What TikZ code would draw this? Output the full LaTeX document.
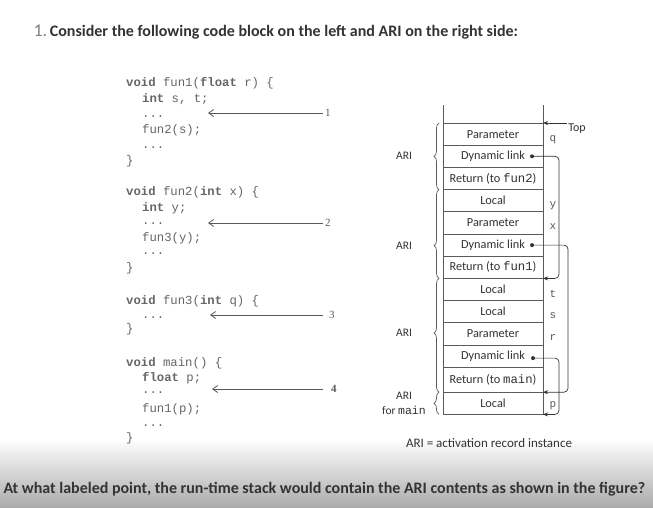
\documentclass[tikz,border=0pt]{standalone}
\usepackage{fontspec}
\setmainfont{Carlito}
\newfontfamily\codefont{Liberation Mono}
\newfontfamily\numfont{Liberation Serif}
\usetikzlibrary{positioning,arrows.meta,decorations.pathreplacing}

\definecolor{ink}{HTML}{5A5A5A}
\definecolor{codeink}{HTML}{666666}
\definecolor{txt}{HTML}{333333}

\newcommand{\kwd}[1]{\textbf{#1}}
\newcommand{\tname}[1]{{\codefont #1}}

\tikzset{
  code/.style={anchor=base west, inner sep=0pt, text=codeink,
    font=\codefont\fontsize{12.3}{14}\selectfont},
  pointnum/.style={anchor=west, inner sep=2pt, text=ink,
    font=\numfont\fontsize{11}{12}\selectfont},
  pointer/.style={draw=ink, line width=0.8pt, -{Straight Barb[length=5pt,width=7pt]}},
  cell/.style={draw=ink, line width=0.7pt, minimum width=100pt, minimum height=22.2pt,
    inner sep=0pt, outer sep=0pt, text=txt, font=\fontsize{12.3}{14}\selectfont},
  varlab/.style={anchor=base, inner sep=0pt, text=ink,
    font=\codefont\fontsize{11}{12}\selectfont},
  dynlink/.style={draw=txt, line width=0.7pt, rounded corners=4pt, -{Stealth[length=5pt,width=4pt]}},
  aribrace/.style={draw=ink, line width=0.7pt, decorate,
    decoration={brace, amplitude=5pt, aspect=#1}},
  arilabel/.style={xshift=-35pt, inner sep=0pt, text=txt, align=center,
    font=\fontsize{11.5}{15}\selectfont}
}

\begin{document}
\begin{tikzpicture}[x=1pt,y=1pt]

\useasboundingbox (0,0) rectangle (653,507);
\fill[white] (0,0) rectangle (653,507);
\shade[top color=white, bottom color=black!33] (0,0) rectangle (653,68);

% title and question
\node[anchor=west, text=txt, font=\fontsize{16}{18}\selectfont] (title) at (30,475)
  {{\color{gray}\fontsize{18}{18}\selectfont 1.}\,\textbf{Consider the following code block on the left and ARI on the right side:}};
\node[anchor=west, text=txt, font=\fontsize{16}{18}\selectfont\bfseries] (question) at (0,18)
  {At what labeled point, the run-time stack would contain the ARI contents as shown in the figure?};

% fun1
\node[code] (f1a) at (126,420) {\kwd{void} fun1(\kwd{float} r) \{};
\node[code] (f1b) at (142,404) {\kwd{int} s, t;};
\node[code] (f1c) at (142,389) {...};
\node[code] (f1d) at (142,373) {fun2(s);};
\node[code] (f1e) at (142,358) {...};
\node[code] (f1f) at (126,342) {\}};

% fun2
\node[code] (f2a) at (126,312) {\kwd{void} fun2(\kwd{int} x) \{};
\node[code] (f2b) at (142,296) {\kwd{int} y;};
\node[code] (f2c) at (142,283) {...};
\node[code] (f2d) at (142,266) {fun3(y);};
\node[code] (f2e) at (142,253) {...};
\node[code] (f2f) at (126,236) {\}};

% fun3
\node[code] (f3a) at (126,203) {\kwd{void} fun3(\kwd{int} q) \{};
\node[code] (f3b) at (142,189) {...};
\node[code] (f3c) at (126,175) {\}};

% main
\node[code] (m1) at (126,141) {\kwd{void} main() \{};
\node[code] (m2) at (142,126) {\kwd{float} p;};
\node[code] (m3) at (142,114) {...};
\node[code] (m4) at (142,95) {fun1(p);};
\node[code] (m5) at (142,81) {...};
\node[code] (m6) at (126,66) {\}};

% labeled points
\node[pointnum] (n1) at (323,394) {1};
\node[pointnum] (n2) at (323,284) {2};
\node[pointnum] (n3) at (327,192) {3};
\node[pointnum] (n4) at (329,118) {\textbf{4}};
\coordinate (p1) at (208,394);
\coordinate (p2) at (208,284);
\coordinate (p3) at (210,192);
\coordinate (p4) at (212,118);
\draw[pointer] (n1.west) -- (p1);
\draw[pointer] (n2.west) -- (p2);
\draw[pointer] ([xshift=-4pt]n3.west) -- (p3);
\draw[pointer] ([xshift=-6pt]n4.west) -- (p4);

% stack
\node[cell, anchor=north] (c1) at (493,384) {Parameter};
\node[cell, below=0pt of c1] (c2) {Dynamic link};
\node[cell, below=0pt of c2] (c3) {Return (to \tname{fun2})};
\node[cell, below=0pt of c3] (c4) {Local};
\node[cell, below=0pt of c4] (c5) {Parameter};
\node[cell, below=0pt of c5] (c6) {Dynamic link};
\node[cell, below=0pt of c6] (c7) {Return (to \tname{fun1})};
\node[cell, below=0pt of c7] (c8) {Local};
\node[cell, below=0pt of c8] (c9) {Local};
\node[cell, below=0pt of c9] (c10) {Parameter};
\node[cell, below=0pt of c10] (c11) {Dynamic link};
\node[cell, below=0pt of c11, minimum height=25pt] (c12) {Return (to \tname{main})};
\node[cell, below=0pt of c12] (c13) {Local};
\draw[draw=ink, line width=0.7pt] (c1.north west) -- ++(0,18);
\draw[draw=ink, line width=0.7pt] (c1.north east) -- ++(0,18);

% variable names
\node[varlab] (vq) at ([xshift=10pt,yshift=4pt]c1.south east) {q};
\node[varlab] (vy) at ([xshift=10pt,yshift=4pt]c4.south east) {y};
\node[varlab] (vx) at ([xshift=10pt,yshift=5pt]c5.south east) {x};
\node[varlab] (vt) at ([xshift=10pt,yshift=3pt]c8.south east) {t};
\node[varlab] (vs) at ([xshift=10pt,yshift=4pt]c9.south east) {s};
\node[varlab] (vr) at ([xshift=10pt,yshift=5pt]c10.south east) {r};
\node[varlab] (vp) at ([xshift=10pt,yshift=7pt]c13.south east) {p};

% top of stack
\node[inner sep=1pt, text=txt, font=\fontsize{12}{14}\selectfont] (top) at (577,378) {Top};
\draw[dynlink] (top.west |- c1.north) -- (c1.north east);

% dynamic links
\coordinate (d1) at ([xshift=-11pt]c2.east);
\coordinate (d2) at ([xshift=-11pt]c6.east);
\coordinate (d3) at ([xshift=-10pt,yshift=-2pt]c11.east);
\fill[txt] (d1) circle (2pt);
\fill[txt] (d2) circle (2pt);
\fill[txt] (d3) circle (2pt);
\draw[dynlink] (d1) -- ([xshift=16pt]d1 -| c2.east) |- (c7.south east);
\draw[dynlink] (d2) -- ([xshift=25pt]d2 -| c6.east) |- (c12.south east);
\draw[dynlink] (d3) -- ([xshift=16pt]d3 -| c11.east) |- (c13.south east);

% ARI braces
\draw[aribrace=0.5] ([xshift=-4pt]c3.south west) -- node[pos=0.5, arilabel] (ari1) {ARI} ([xshift=-4pt]c1.north west);
\draw[aribrace=0.37] ([xshift=-4pt]c7.south west) -- node[pos=0.37, arilabel] (ari2) {ARI} ([xshift=-4pt]c4.north west);
\draw[aribrace=0.52] ([xshift=-4pt]c12.south west) -- node[pos=0.52, arilabel] (ari3) {ARI} ([xshift=-4pt]c8.north west);
\draw[aribrace=0.5] ([xshift=-4pt]c13.south west) -- node[pos=0.5, arilabel] (ari4) {ARI\\for \tname{main}} ([xshift=-4pt]c13.north west);

\node[text=txt, font=\fontsize{13}{15}\selectfont] (legend) at (489,64) {ARI = activation record instance};

\end{tikzpicture}
\end{document}
